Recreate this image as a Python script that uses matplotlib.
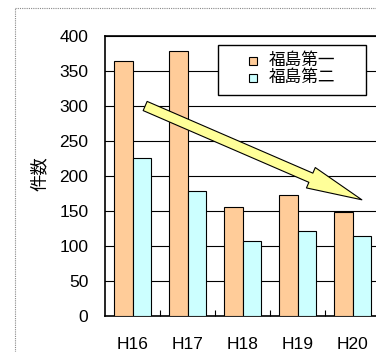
import numpy as np
import matplotlib
matplotlib.use('Agg')
import matplotlib.pyplot as plt
from matplotlib.patches import Rectangle
from matplotlib.lines import Line2D

plt.rcParams['font.family'] = ['Liberation Sans', 'Noto Sans CJK JP', 'DejaVu Sans']

years = ['H16', 'H17', 'H18', 'H19', 'H20']
daiichi = [364, 378, 156, 173, 149]
daini = [225, 178, 107, 122, 114]
series_names = ['福島第一', '福島第二']
yticks = [0, 50, 100, 150, 200, 250, 300, 350, 400]

c1 = '#FFCC99'
c2 = '#CCFFFF'

fig = plt.figure(figsize=(3.76, 3.52), dpi=100)
W, H = 376, 352

def fx(px):
    return px / W

def fy(py):
    return 1 - py / H

# outer dotted frame of the chart object
fig.add_artist(Line2D([fx(15), fx(15)], [0, fy(8)], color='#888888', lw=0.8, ls=(0, (1, 1))))
fig.add_artist(Line2D([fx(15), 1], [fy(8), fy(8)], color='#888888', lw=0.8, ls=(0, (1, 1))))

ax = fig.add_axes([fx(105), fy(316), 275 / W, 280 / H])
x = np.arange(len(years))
bw = 0.335
ax.bar(x - bw / 2, daiichi, bw, color=c1, edgecolor='black', lw=0.8, zorder=3)
ax.bar(x + bw / 2, daini, bw, color=c2, edgecolor='black', lw=0.8, zorder=3)

ax.set_xlim(-0.5, len(years) - 0.5)
ax.set_ylim(0, 400)
ax.set_yticks(yticks)
ax.yaxis.grid(True, color='black', lw=0.8, zorder=0)
ax.set_axisbelow(True)
ax.tick_params(axis='y', length=0, pad=12, labelsize=12.5)
ax.set_xticks(x)
ax.set_xticklabels(years)
ax.tick_params(axis='x', length=0, pad=15, labelsize=12.5)
ax.set_xticks(np.arange(0.5, len(years) - 0.5), minor=True)
ax.tick_params(axis='x', which='minor', direction='in', length=4, width=0.8)
for s in ax.spines.values():
    s.set_linewidth(1.2)

fig.text(fx(39), fy(174), '件数', rotation=90, fontsize=12.5, ha='center', va='center')

# trend arrow
ax.annotate('', xy=(4.17, 166), xytext=(0.23, 300),
            arrowprops=dict(arrowstyle='simple,head_length=2.0,head_width=0.8,tail_width=0.36',
                            mutation_scale=20, fc='#FFFF99', ec='black', lw=0.8,
                            shrinkA=0, shrinkB=0), zorder=5)

# legend box drawn by hand to get Excel-like padding
fig.add_artist(Rectangle((fx(218.5), fy(94.5)), 147 / W, 49.5 / H, transform=fig.transFigure,
                         fc='white', ec='black', lw=1.0, zorder=6))
for i, (name, col) in enumerate(zip(series_names, [c1, c2])):
    yc = 60.5 + i * 17
    fig.add_artist(Rectangle((fx(248.5), fy(yc + 4)), 8 / W, 8 / H, transform=fig.transFigure,
                             fc=col, ec='black', lw=0.8, zorder=7))
    fig.text(fx(269), fy(yc), name, fontsize=12, ha='left', va='center', zorder=7)

fig.savefig('out.png', dpi=100)
